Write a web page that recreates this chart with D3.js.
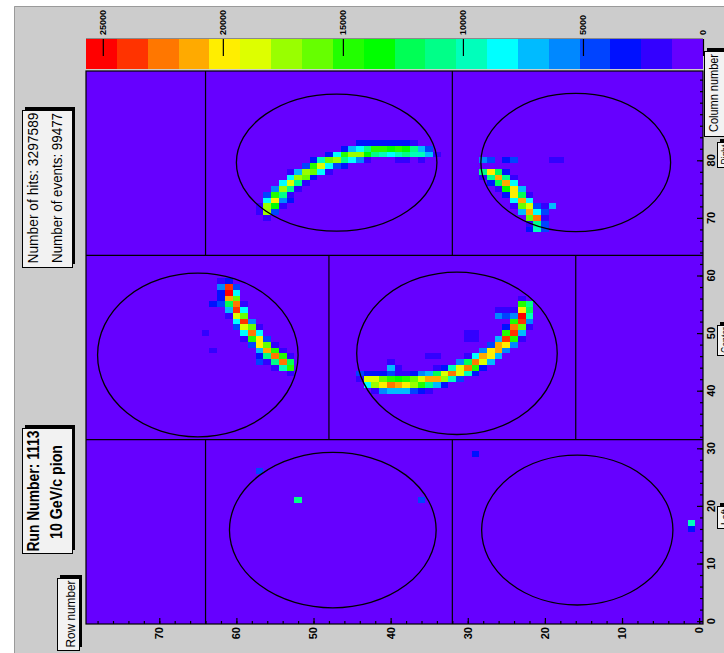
<!DOCTYPE html>
<html>
<head>
<meta charset="utf-8">
<script src="https://cdn.jsdelivr.net/npm/d3@7"></script>
<style>
  body { margin: 0; background: #fff; }
  svg { display: block; }
  text { font-family: "Liberation Sans", Arial, Helvetica, sans-serif; fill: #000; }
</style>
</head>
<body>
<svg id="chart" width="724" height="653"></svg>
<script>
// ---- axis ticks ----
const rowTicks = [0, 10, 20, 30, 40, 50, 60, 70];
const colTicks = [0, 10, 20, 30, 40, 50, 60, 70, 80];
const countTicks = [0, 5000, 10000, 15000, 20000, 25000];
const countMax = 25700;

// palette, lowest level first (20 contour levels)
const palette = ["#6600ff", "#3300ff", "#0011ff", "#0044ff", "#0088ff", "#00bbff", "#00ffff",
  "#00ffbb", "#00ff88", "#00ff55", "#00ff00", "#22ff00", "#66ff00", "#99ff00", "#ddff00",
  "#ffee00", "#ffaa00", "#ff7700", "#ff3300", "#ff0000"];

// ---- hit counts per pad: [row, column, hits] ----
const hitsRightA = [
  [44,83,3000],[43,83,3000],[42,83,3200],[41,83,3000],[40,83,3000],[39,83,3000],[38,83,3000],[37,83,2000],
  [46,82,3500],[45,82,7000],[44,82,8500],[43,82,11000],[42,82,14500],[41,82,14500],[40,82,13500],[39,82,14500],[38,82,13500],[37,82,10500],[36,82,7000],[35,82,4500],
  [48,81,3500],[47,81,8500],[46,81,14500],[45,81,17000],[44,81,17000],[43,81,13500],[42,81,11000],[41,81,9500],[40,81,8500],[39,81,9500],[38,81,11000],[37,81,9500],[36,81,9500],[35,81,7000],[34,81,2000],
  [50,80,3500],[49,80,9500],[48,80,16000],[47,80,17000],[46,80,11000],[45,80,8500],[44,80,6000],[43,80,2000],[39,80,2000],[38,80,2000],[36,80,2000],
  [51,79,4500],[50,79,14500],[49,79,18500],[48,79,8500],[47,79,4500],[46,79,3500],
  [53,78,2000],[52,78,7000],[51,78,17000],[50,78,16000],[49,78,8500],[48,78,2000],
  [53,77,8500],[52,77,17000],[51,77,16000],[50,77,3000],
  [54,76,8500],[53,76,18500],[52,76,11000],[51,76,2000],
  [55,75,6000],[54,75,17000],[53,75,11000],[52,75,2000],
  [56,74,4500],[55,74,14500],[54,74,11000],[53,74,2000],
  [56,73,8500],[55,73,20000],[54,73,6000],[53,73,3500],
  [57,72,2000],[56,72,17000],[55,72,14000],[54,72,2000],
  [57,71,2500],[56,71,17000],[55,71,4500],
  [56,70,2000]
];
const hitsRightB = [
  [28,80,6000],[27,80,4000],[25,80,3500],[24,80,4500],[19,80,2000],[18,80,2000],
  [28,78,11000],[27,78,20000],[26,78,12500],[25,78,3000],
  [28,77,2000],[27,77,11000],[26,77,21500],[25,77,11000],[24,77,2000],
  [27,76,3000],[26,76,12500],[25,76,21000],[24,76,8500],
  [26,75,2000],[25,75,13000],[24,75,19500],[23,75,7000],
  [25,74,3000],[24,74,19500],[23,74,12500],[22,74,2000],
  [24,73,8500],[23,73,21000],[22,73,8500],
  [24,72,2000],[23,72,16000],[22,72,19000],[21,72,4500],[20,72,2000],[19,72,6500],
  [23,71,6500],[22,71,21000],[21,71,8500],[20,71,4500],
  [22,70,15500],[21,70,22500],[20,70,2000],
  [22,69,2000],[21,69,11000],[20,69,4500],
  [22,68,3000],[21,68,9500],[20,68,4500]
];
const hitsCenterC = [
  [62,59,2000],[61,59,3000],
  [62,58,5500],[61,58,24000],[60,58,4000],
  [62,57,3000],[61,57,25000],[60,57,8500],
  [62,56,3000],[61,56,21000],[60,56,16000],
  [63,55,3000],[62,55,4500],[61,55,12500],[60,55,22500],[59,55,2000],
  [61,54,6500],[60,54,23500],[59,54,8000],
  [61,53,2000],[60,53,19000],[59,53,16000],
  [60,52,8500],[59,52,24000],[58,52,5500],
  [60,51,4000],[59,51,19000],[58,51,16000],[57,51,2000],
  [64,50,2000],[59,50,8500],[58,50,22500],[57,50,8500],
  [59,49,2000],[58,49,14500],[57,49,20000],[56,49,4500],
  [58,48,4500],[57,48,20000],[56,48,16000],[55,48,2000],
  [63,47,2000],[57,47,7000],[56,47,21000],[55,47,14500],[54,47,2000],
  [57,46,3000],[56,46,11000],[55,46,22500],[54,46,14500],[53,46,2000],
  [57,45,4500],[56,45,2000],[55,45,11000],[54,45,22500],[53,45,12500],
  [55,44,2000],[54,44,9500],[53,44,14500],
  [53,43,2000]
];
const hitsCenterD = [
  [23,56,2000],
  [23,55,14500],[22,55,11000],
  [26,54,2000],[25,54,2000],[24,54,2000],[23,54,20000],[22,54,12500],
  [26,53,6000],[25,53,4500],[24,53,6000],[23,53,25000],[22,53,9500],
  [24,52,14500],[23,52,24000],[22,52,6000],
  [25,51,3000],[24,51,22500],[23,51,16000],[22,51,2000],
  [30,50,2000],[29,50,2000],[25,50,14500],[24,50,24000],[23,50,7000],
  [30,49,2000],[29,49,2000],[26,49,7000],[25,49,24000],[24,49,14500],[23,49,2000],
  [27,48,4500],[26,48,21000],[25,48,20000],[24,48,5500],
  [28,47,5500],[27,47,20000],[26,47,21000],[25,47,5500],
  [35,46,2000],[34,46,2000],[30,46,2000],[29,46,8500],[28,46,21000],[27,46,20000],[26,46,7000],
  [40,45,2000],[31,45,5500],[30,45,12000],[29,45,22500],[28,45,18000],[27,45,7000],
  [40,44,7000],[39,44,2000],[34,44,2000],[33,44,3000],[32,44,9500],[31,44,18000],[30,44,22500],[29,44,14500],[28,44,3500],
  [44,43,4000],[43,43,3000],[42,43,3000],[41,43,3000],[40,43,4500],[39,43,2500],[38,43,2500],[37,43,3500],[36,43,5500],[35,43,7000],[34,43,12000],[33,43,18000],[32,43,22500],[31,43,18000],[30,43,9500],[29,43,3000],
  [44,42,2000],[43,42,18500],[42,42,18500],[41,42,16000],[40,42,14500],[39,42,13500],[38,42,14500],[37,42,16000],[36,42,18500],[35,42,21000],[34,42,21000],[33,42,17000],[32,42,9500],[31,42,4500],
  [43,41,8000],[42,41,17000],[41,41,20000],[40,41,22500],[39,41,21000],[38,41,19500],[37,41,17000],[36,41,14500],[35,41,11000],[34,41,7000],[33,41,3000],
  [42,40,2000],[41,40,5500],[40,40,7000],[39,40,7000],[38,40,7000],[37,40,4500],[36,40,3000],[35,40,2000]
];
const hitsLeft = [
  [57,26,4500],[52,21,11000],[36,21,4000],[29,29,3000],[1,17,9500],[1,16,3000]
];

// pad outlines: centre row, centre column, half-width (rows), half-height (columns)
const padCircles = [
  [47.0, 79.6, 13.0, 11.9],
  [16.0, 79.6, 12.3, 12.0],
  [65.0, 46.2, 13.0, 14.2],
  [31.4, 46.5, 13.0, 14.1],
  [47.5, 15.8, 13.4, 13.5],
  [15.8, 15.8, 12.4, 13.0]
];

// ---- scales ----
const x = d3.scaleLinear().domain([-0.5, 79.5]).range([703, 86]);   // row number
const y = d3.scaleLinear().domain([-0.5, 95.5]).range([624, 71]);   // column number
const color = d3.scaleQuantize().domain([0, countMax]).range(palette);
const cx = d3.scaleLinear().domain([0, countMax]).range([703, 86]); // colour bar

const svg = d3.select("#chart");

// canvas
svg.append("rect").attr("x", 14).attr("y", 6).attr("width", 710).attr("height", 647).attr("fill", "#cccccc");
svg.append("path").attr("d", "M14.5,653V6.5H724").attr("fill", "none").attr("stroke", "#9a9a9a");

// ---- colour bar ----
const bar = svg.append("g");
const step = countMax / palette.length;
bar.selectAll("rect").data(palette).join("rect")
  .attr("x", (d, i) => cx((i + 1) * step))
  .attr("width", (d, i) => cx(i * step) - cx((i + 1) * step))
  .attr("y", 39).attr("height", 30)
  .attr("fill", d => d).attr("shape-rendering", "crispEdges");
bar.append("line").attr("x1", 86).attr("x2", 703).attr("y1", 38.5).attr("y2", 38.5).attr("stroke", "#8a8a8a");
const barAxis = bar.append("g").attr("transform", "translate(0,39)")
  .call(d3.axisBottom(cx).tickValues(countTicks).tickSize(17).tickFormat(""));
barAxis.select(".domain").remove();
barAxis.selectAll("line").attr("stroke", "#000").attr("stroke-width", 1.2);
bar.selectAll("text.clab").data(countTicks).join("text").attr("class", "clab")
  .attr("transform", d => `translate(${cx(d)},35) rotate(-90)`)
  .attr("dy", "0.35em").attr("text-anchor", "start")
  .style("font-size", "9px").style("font-weight", "bold")
  .text(d => d);

// ---- frame & cells ----
const plot = svg.append("g");
plot.append("rect").attr("x", 86).attr("y", 71).attr("width", 617).attr("height", 553).attr("fill", "#6600ff");

const allHits = [].concat(hitsRightA, hitsRightB, hitsCenterC, hitsCenterD, hitsLeft);
plot.selectAll("rect.cell").data(allHits).join("rect").attr("class", "cell")
  .attr("x", d => x(d[0] + 0.5))
  .attr("width", d => x(d[0] - 0.5) - x(d[0] + 0.5))
  .attr("y", d => y(d[1] + 0.5))
  .attr("height", d => y(d[1] - 0.5) - y(d[1] + 0.5))
  .attr("fill", d => color(d[2]))
  .attr("shape-rendering", "crispEdges");

// pad boundaries
const seg = [
  [64, 63.5, 95.5], [32, 63.5, 95.5],
  [48, 31.5, 63.5], [16, 31.5, 63.5],
  [64, -0.5, 31.5], [32, -0.5, 31.5]
];
plot.selectAll("line.vsep").data(seg).join("line").attr("class", "vsep")
  .attr("x1", d => x(d[0])).attr("x2", d => x(d[0]))
  .attr("y1", d => y(d[1])).attr("y2", d => y(d[2]))
  .attr("stroke", "#000").attr("stroke-width", 1.2);
plot.selectAll("line.hsep").data([63.5, 31.5]).join("line").attr("class", "hsep")
  .attr("x1", 86).attr("x2", 703)
  .attr("y1", d => y(d)).attr("y2", d => y(d))
  .attr("stroke", "#000").attr("stroke-width", 1.2);

plot.selectAll("ellipse").data(padCircles).join("ellipse")
  .attr("cx", d => x(d[0])).attr("cy", d => y(d[1]))
  .attr("rx", d => Math.abs(x(d[2]) - x(0))).attr("ry", d => Math.abs(y(d[3]) - y(0)))
  .attr("fill", "none").attr("stroke", "#000").attr("stroke-width", 1.3);

plot.append("rect").attr("x", 86).attr("y", 71).attr("width", 617).attr("height", 553)
  .attr("fill", "none").attr("stroke", "#000").attr("stroke-width", 1.2);

// ---- row axis (bottom) ----
const rowAxis = svg.append("g").attr("transform", "translate(0,624)");
rowAxis.call(d3.axisTop(x).tickValues(d3.range(0, 80, 2)).tickSize(3).tickFormat(""));
rowAxis.append("g").call(d3.axisTop(x).tickValues(rowTicks).tickSize(6).tickFormat(""));
rowAxis.selectAll(".domain").remove();
rowAxis.selectAll("line").attr("stroke", "#000").attr("stroke-width", 1.2);
svg.selectAll("text.rlab").data(rowTicks).join("text").attr("class", "rlab")
  .attr("transform", d => `translate(${x(d)},627) rotate(-90)`)
  .attr("dy", "0.35em").attr("text-anchor", "end")
  .style("font-size", "11px").style("font-weight", "bold")
  .text(d => d);

// ---- column axis (right) ----
const colAxis = svg.append("g").attr("transform", "translate(703,0)");
colAxis.call(d3.axisLeft(y).tickValues(d3.range(0, 96, 2)).tickSize(3).tickFormat(""));
colAxis.append("g").call(d3.axisLeft(y).tickValues(colTicks).tickSize(6).tickFormat(""));
colAxis.selectAll(".domain").remove();
colAxis.selectAll("line").attr("stroke", "#000").attr("stroke-width", 1.2);
svg.selectAll("text.clab2").data(colTicks).join("text").attr("class", "clab2")
  .attr("transform", d => `translate(714.5,${y(d)}) rotate(-90)`)
  .attr("text-anchor", "middle")
  .style("font-size", "11px").style("font-weight", "bold")
  .text(d => d);

// ---- labelled boxes ----
function box(x0, y0, w, h) {
  svg.append("rect").attr("x", x0 + 3).attr("y", y0 - 3).attr("width", w).attr("height", h).attr("fill", "#000");
  svg.append("rect").attr("x", x0 + 0.5).attr("y", y0 + 0.5).attr("width", w).attr("height", h)
    .attr("fill", "#f2f2f2").attr("stroke", "#000").attr("stroke-width", 1);
}
function vtext(X, Y, str, size, weight, len) {
  const t = svg.append("text").attr("transform", `translate(${X},${Y}) rotate(-90)`)
    .attr("text-anchor", "middle").style("font-size", size + "px").style("font-weight", weight).text(str);
  if (len) t.attr("textLength", len).attr("lengthAdjust", "spacingAndGlyphs");
  return t;
}

box(22, 110, 50, 157);
vtext(38, 188, "Number of hits: 3297589", 15, "normal", 151);
vtext(61.5, 188, "Number of events: 99477", 15, "normal", 150);

box(22, 428, 50, 125);
vtext(39, 491, "Run Number: 1113", 16, "bold", 121);
vtext(62, 492, "10 GeV/c pion", 16, "bold", 94);

box(57, 578, 22, 72);
vtext(75, 614, "Row number", 12, "normal", 67);

box(704, 51, 24, 85);
vtext(718, 93, "Column number", 12, "normal", 78);

box(717, 142, 16, 25);
vtext(729, 154.5, "Right", 10, "normal", 20);
box(717, 325, 16, 30);
vtext(729, 340, "Center", 10, "normal", 26);
box(717, 506, 16, 22);
vtext(729, 517, "Left", 10, "normal", 16);
</script>
</body>
</html>
